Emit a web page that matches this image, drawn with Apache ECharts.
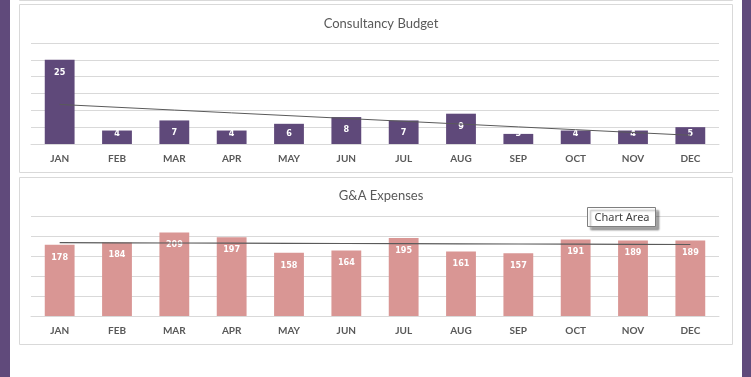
<!DOCTYPE html>
<html>
<head>
<meta charset="utf-8">
<script src="https://cdn.jsdelivr.net/npm/echarts@6/dist/echarts.min.js"></script>
<style>
  html, body { margin: 0; padding: 0; background: #fff; }
  #chart { width: 751px; height: 377px; }
</style>
</head>
<body>
<div id="chart"></div>
<script>
const months = ["JAN", "FEB", "MAR", "APR", "MAY", "JUN", "JUL", "AUG", "SEP", "OCT", "NOV", "DEC"];
const consultancy = [25, 4, 7, 4, 6, 8, 7, 9, 3, 4, 4, 5];
const gaExpenses = [178, 184, 209, 197, 158, 164, 195, 161, 157, 191, 189, 189];

const colors = {
  purple: "#5f497a",
  pink: "#d99694",
  grid: "#d9d9d9",
  text: "#595959",
  trend: "#5a5a5a",
};

// linear trendline (least squares), same as the spreadsheet's trendline
function linearTrend(values) {
  const n = values.length;
  let sx = 0, sy = 0, sxy = 0, sxx = 0;
  values.forEach((v, i) => {
    const x = i + 1;
    sx += x; sy += v; sxy += x * v; sxx += x * x;
  });
  const slope = (n * sxy - sx * sy) / (n * sxx - sx * sx);
  const b = (sy - slope * sx) / n;
  return values.map((v, i) => +(b + slope * (i + 1)).toFixed(3));
}

function xAxisOpt(gridIndex) {
  return {
    type: "category",
    gridIndex,
    data: months,
    axisTick: { show: false },
    axisLine: { lineStyle: { color: colors.grid } },
    axisLabel: {
      color: colors.text,
      fontFamily: "Lato",
      fontWeight: "bold",
      fontSize: 10,
      margin: 10,
    },
  };
}

function yAxisOpt(gridIndex, max, interval) {
  return {
    type: "value",
    gridIndex,
    min: 0,
    max,
    interval,
    axisLabel: { show: false },
    axisLine: { show: false },
    axisTick: { show: false },
    splitLine: { lineStyle: { color: colors.grid } },
  };
}

const labelFont = {
  color: "#fff",
  fontFamily: "'DejaVu Sans Condensed', 'DejaVu Sans', sans-serif",
  fontWeight: "bold",
  fontSize: 9,
};

const chart = echarts.init(document.getElementById("chart"));
chart.setOption({
  animation: false,
  title: [
    {
      text: "Consultancy Budget",
      left: 376,
      top: 12,
      textAlign: "center",
      textStyle: { fontFamily: "Lato", fontWeight: "normal", fontSize: 13, color: colors.text },
    },
    {
      text: "G&A Expenses",
      left: 376,
      top: 184,
      textAlign: "center",
      textStyle: { fontFamily: "Lato", fontWeight: "normal", fontSize: 13, color: colors.text },
    },
  ],
  grid: [
    { left: 31, right: 32, top: 43, height: 101 },
    { left: 31, right: 32, top: 216, height: 100 },
  ],
  xAxis: [xAxisOpt(0), xAxisOpt(1)],
  yAxis: [yAxisOpt(0, 30, 5), yAxisOpt(1, 250, 50)],
  series: [
    {
      type: "bar",
      xAxisIndex: 0,
      yAxisIndex: 0,
      barWidth: "52%",
      itemStyle: { color: colors.purple },
      label: { show: true, distance: 7, ...labelFont },
      data: consultancy.map((v) => ({
        value: v,
        label: { position: v < 7 ? "insideBottom" : "insideTop", distance: v < 7 ? 6 : 8 },
      })),
    },
    {
      type: "line",
      xAxisIndex: 0,
      yAxisIndex: 0,
      symbol: "none",
      lineStyle: { color: colors.trend, width: 1 },
      data: linearTrend(consultancy),
      z: 5,
    },
    {
      type: "bar",
      xAxisIndex: 1,
      yAxisIndex: 1,
      barWidth: "52%",
      itemStyle: { color: colors.pink },
      label: { show: true, position: "insideTop", distance: 8, ...labelFont },
      data: gaExpenses,
    },
    {
      type: "line",
      xAxisIndex: 1,
      yAxisIndex: 1,
      symbol: "none",
      lineStyle: { color: colors.trend, width: 1.2 },
      data: linearTrend(gaExpenses),
      z: 5,
    },
  ],
  graphic: [
    // side stripes
    { type: "rect", shape: { x: 0, y: 0, width: 10, height: 377 }, style: { fill: "#604a7b" } },
    { type: "rect", shape: { x: 742, y: 0, width: 9, height: 377 }, style: { fill: "#604a7b" } },
    // panel borders
    { type: "rect", shape: { x: 19.5, y: -100, width: 713, height: 100.5 }, style: { fill: "none", stroke: colors.grid, lineWidth: 1 } },
    { type: "rect", shape: { x: 19.5, y: 4.5, width: 713, height: 168 }, style: { fill: "none", stroke: colors.grid, lineWidth: 1 } },
    { type: "rect", shape: { x: 19.5, y: 177.5, width: 713, height: 167 }, style: { fill: "none", stroke: colors.grid, lineWidth: 1 } },
    // "Chart Area" hover box
    {
      type: "rect",
      z: 100,
      shape: { x: 587.5, y: 207.5, width: 68, height: 19 },
      style: {
        fill: "#fff",
        stroke: "#7f7f7f",
        lineWidth: 1,
        shadowBlur: 2,
        shadowOffsetX: 3,
        shadowOffsetY: 3,
        shadowColor: "rgba(0,0,0,0.35)",
      },
    },
    {
      type: "text",
      z: 101,
      x: 622,
      y: 217.5,
      style: {
        text: "Chart Area",
        fill: "#404040",
        fontFamily: "Noto Sans",
        fontSize: 11,
        align: "center",
        verticalAlign: "middle",
      },
    },
  ],
});
</script>
</body>
</html>
